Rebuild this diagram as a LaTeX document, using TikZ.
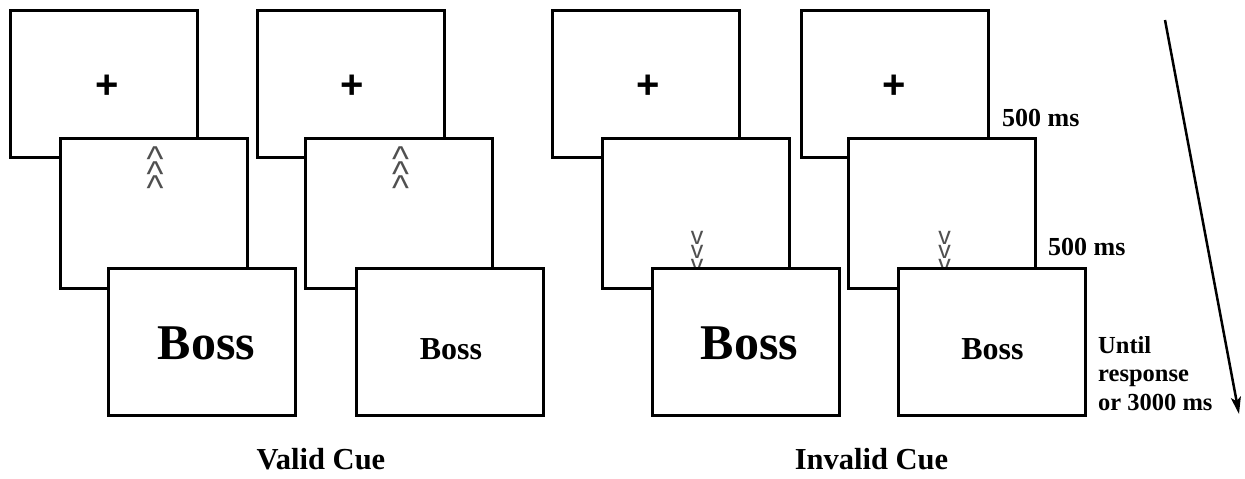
\documentclass[tikz,border=0pt]{standalone}
\usepackage{fontspec}
\setmainfont{Liberation Serif}
\newfontfamily\sansf{Liberation Sans}
\usetikzlibrary{arrows.meta}
\definecolor{cuegray}{HTML}{505050}
\begin{document}
\begin{tikzpicture}[x=1pt,y=-1pt,
  scr/.style={draw=black, line width=3pt, fill=white, anchor=north west,
    inner sep=0pt, outer sep=0pt, minimum width=187pt},
  fixbox/.style={scr, minimum height=147pt},
  cuebox/.style={scr, minimum height=150pt},
  tgtbox/.style={scr, minimum height=147pt},
  plusmark/.style={inner sep=0pt, font=\sansf\bfseries\fontsize{40}{40}\selectfont},
  bigword/.style={anchor=base, inner sep=0pt, font=\bfseries\fontsize{50}{50}\selectfont},
  smallword/.style={anchor=base, inner sep=0pt, font=\bfseries\fontsize{32}{32}\selectfont},
  upmark/.style={anchor=north, inner sep=0pt, align=center, text=cuegray,
    font={\sansf\fontsize{36}{14.5}\selectfont\lineskiplimit=-100pt}},
  downmark/.style={anchor=north, inner sep=0pt, align=center, text=cuegray,
    font={\sansf\fontsize{25}{14}\selectfont\lineskiplimit=-100pt}},
  timelbl/.style={anchor=base west, inner sep=0pt, font=\bfseries\fontsize{26}{26}\selectfont},
  condlbl/.style={anchor=base, inner sep=0pt, font=\bfseries\fontsize{30.5}{30.5}\selectfont},
  timearrow/.style={line width=2.5pt, -{Stealth[length=17pt,width=10pt,inset=4pt]}}
]
\useasboundingbox (0,0) rectangle (1245,479);

% Valid cue, group 1
\node[fixbox] (f1) at (10,10) {};
\node[plusmark] (p1) at (107.5,87) {+};
\node[cuebox] (c1) at (60,138) {};
\node[upmark] (m1) at (155,147) {\textasciicircum\\\textasciicircum\\\textasciicircum};
\node[tgtbox] (t1) at (108,268) {};
\node[bigword] (w1) at (206.5,359) {Boss};

% Valid cue, group 2
\node[fixbox] (f2) at (257,10) {};
\node[plusmark] (p2) at (352,87) {+};
\node[cuebox] (c2) at (305,138) {};
\node[upmark] (m2) at (400.5,147) {\textasciicircum\\\textasciicircum\\\textasciicircum};
\node[tgtbox] (t2) at (356,268) {};
\node[smallword] (w2) at (451,359) {Boss};

% Invalid cue, group 3
\node[fixbox] (f3) at (552,10) {};
\node[plusmark] (p3) at (648,87) {+};
\node[cuebox] (c3) at (602,138) {};
\node[downmark] (m3) at (697,231) {v\\v\\v};
\node[tgtbox] (t3) at (652,268) {};
\node[bigword] (w3) at (749.5,359) {Boss};

% Invalid cue, group 4
\node[fixbox] (f4) at (801,10) {};
\node[plusmark] (p4) at (894.5,87) {+};
\node[cuebox] (c4) at (848,138) {};
\node[downmark] (m4) at (944.5,231) {v\\v\\v};
\node[tgtbox] (t4) at (898,268) {};
\node[smallword] (w4) at (992.5,359) {Boss};

% timing labels
\node[timelbl] (d1) at (1002,126) {500 ms};
\node[timelbl] (d2) at (1048,255) {500 ms};
\node[anchor=base west, inner sep=0pt, align=left,
  font=\bfseries\fontsize{24.5}{28.5}\selectfont] (d3) at (1098,410)
  {Until\\response\\or 3000 ms};

% condition labels
\node[condlbl] (v1) at (321,469) {Valid Cue};
\node[condlbl] (v2) at (871.5,469) {Invalid Cue};

% time arrow
\coordinate (a0) at (1165,20);
\coordinate (a1) at (1239,414);
\draw[timearrow] (a0) -- (a1);
\end{tikzpicture}
\end{document}
